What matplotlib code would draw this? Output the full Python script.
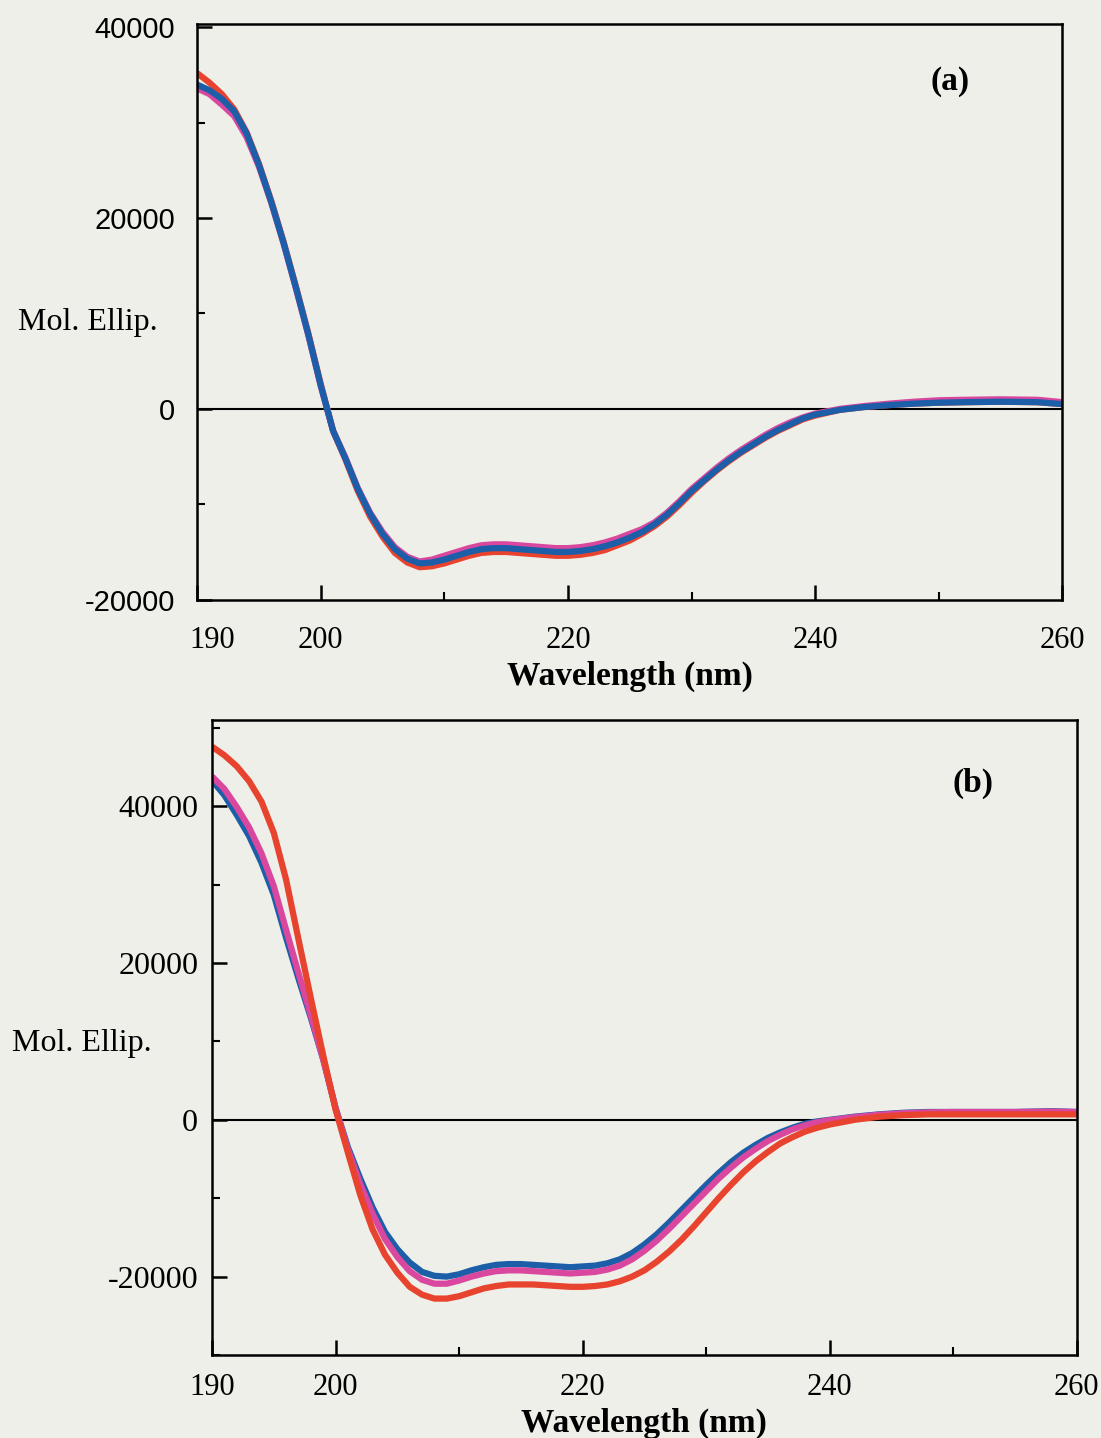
import numpy as np
import matplotlib.pyplot as plt
from matplotlib.ticker import MultipleLocator
from matplotlib.transforms import ScaledTranslation

# comprimentos de onda (nm)
wl = [190, 191, 192, 193, 194, 195, 196, 197, 198, 199,
      200, 201, 202, 203, 204, 205, 206, 207, 208, 209,
      210, 211, 212, 213, 214, 215, 216, 217, 218, 219,
      220, 221, 222, 223, 224, 225, 226, 227, 228, 229,
      230, 231, 232, 233, 234, 235, 236, 237, 238, 239,
      240, 242, 244, 246, 248, 250, 252, 255, 258, 260]

# painel (a)
a_red = [35200, 34200, 33000, 31400, 29000, 25700, 21800, 17500, 12800, 7900,
         2600, -2300, -5300, -8600, -11300, -13400, -15100, -16100, -16600, -16500,
         -16200, -15800, -15400, -15100, -15000, -15000, -15100, -15200, -15300, -15400,
         -15400, -15300, -15100, -14800, -14300, -13800, -13100, -12300, -11300, -10100,
         -8800, -7600, -6500, -5500, -4600, -3800, -3000, -2300, -1700, -1100,
         -700, -100, 200, 400, 550, 650, 700, 750, 700, 500]
a_magenta = [33600, 33000, 31900, 30700, 28500, 25400, 21600, 17300, 12600, 7700,
             2400, -2300, -5100, -8300, -10900, -12900, -14500, -15500, -16000, -15800,
             -15400, -15000, -14600, -14300, -14200, -14200, -14300, -14400, -14500, -14600,
             -14600, -14500, -14300, -14000, -13600, -13100, -12600, -11900, -10900, -9700,
             -8400, -7300, -6200, -5200, -4300, -3500, -2700, -2000, -1400, -900,
             -500, 0, 300, 550, 750, 900, 950, 1000, 950, 700]
a_blue = [34000, 33400, 32500, 31200, 28900, 25600, 21700, 17400, 12700, 7800,
          2500, -2300, -5200, -8400, -11000, -13100, -14700, -15700, -16200, -16100,
          -15800, -15400, -15000, -14700, -14600, -14600, -14700, -14800, -14900, -15000,
          -15000, -14900, -14700, -14400, -14000, -13500, -12900, -12100, -11100, -9900,
          -8600, -7500, -6400, -5400, -4500, -3700, -2900, -2200, -1600, -1000,
          -600, -100, 200, 400, 550, 650, 700, 750, 700, 500]

# painel (b)
b_red = [47600, 46500, 45100, 43200, 40600, 36600, 30600, 23000, 15500, 8200,
         1300, -4200, -9600, -14000, -17200, -19500, -21300, -22300, -22800, -22800,
         -22500, -22000, -21500, -21200, -21000, -21000, -21000, -21100, -21200, -21300,
         -21300, -21200, -21000, -20600, -20000, -19200, -18100, -16800, -15300, -13600,
         -11800, -10000, -8300, -6700, -5300, -4100, -3000, -2200, -1500, -1000,
         -600, 0, 400, 600, 700, 700, 700, 700, 700, 700]
b_magenta = [43800, 42200, 39900, 37300, 34000, 29800, 24200, 18700, 13300, 7700,
             1500, -3800, -8200, -12000, -15200, -17500, -19300, -20400, -20900, -20900,
             -20500, -20000, -19600, -19300, -19200, -19200, -19300, -19400, -19500, -19600,
             -19500, -19400, -19100, -18600, -17800, -16700, -15400, -13900, -12300, -10700,
             -9100, -7500, -6100, -4800, -3700, -2700, -1900, -1200, -700, -300,
             -50, 350, 650, 850, 950, 1000, 1000, 1000, 1050, 1000]
b_blue = [43300, 41400, 38900, 36200, 32800, 28700, 23200, 18000, 13000, 7700,
          1500, -3500, -7500, -11200, -14300, -16500, -18200, -19400, -19900, -20000,
          -19700, -19200, -18800, -18500, -18400, -18400, -18500, -18600, -18700, -18800,
          -18700, -18600, -18300, -17800, -17000, -15900, -14600, -13100, -11500, -9900,
          -8300, -6800, -5400, -4200, -3200, -2300, -1600, -1000, -500, -200,
          0, 400, 700, 900, 1000, 1000, 1000, 1000, 1100, 1000]

xticks = [190, 200, 220, 240, 260]
yticks = [-20000, 0, 20000, 40000]

fundo = '#edefe8'
vermelho = '#e8432e'
magenta = '#d9489e'
azul = '#1c5ea8'

fig = plt.figure(figsize=(11.01, 14.38), dpi=100, facecolor=fundo)


def monta_painel(ax, series, ylim, letra, pos_letra, fonte_y, tam_y, pad_x, pad_y):
    ax.set_facecolor(fundo)
    for y, cor in series:
        ax.plot(wl, y, color=cor, lw=4.5, solid_capstyle='butt')
    ax.axhline(0, color='black', lw=1.5, zorder=1)
    ax.set_xlim(190, 260)
    ax.set_ylim(*ylim)
    ax.set_xticks(xticks)
    ax.set_xticklabels([str(t) for t in xticks], family='Liberation Serif', fontsize=22)
    ax.xaxis.set_minor_locator(MultipleLocator(10))
    ax.set_yticks(yticks)
    ax.set_yticklabels([str(t) for t in yticks], family=fonte_y, fontsize=tam_y)
    ax.yaxis.set_minor_locator(MultipleLocator(10000))
    ax.tick_params(which='major', direction='in', length=11, width=1.8, color='black')
    ax.tick_params(which='minor', direction='in', length=6, width=1.5, color='black')
    ax.tick_params(axis='x', which='major', pad=pad_x)
    ax.tick_params(axis='y', which='major', pad=pad_y)
    for s in ax.spines.values():
        s.set_linewidth(1.8)
    ax.text(pos_letra[0], pos_letra[1], letra, transform=ax.transAxes,
            family='Liberation Serif', fontweight='bold', fontsize=24,
            ha='center', va='center')
    ax.set_xlabel('Wavelength (nm)', family='Liberation Serif', fontweight='bold',
                  fontsize=24, labelpad=4)


ax1 = fig.add_axes([0.179, 0.583, 0.786, 0.4])
monta_painel(ax1, [(a_red, vermelho), (a_magenta, magenta), (a_blue, azul)],
             (-20000, 40300), '(a)', (0.87, 0.9), 'Liberation Sans', 21, 19, 16)
# rótulo 190 do painel (a) fica um pouco à direita do canto
lab190 = ax1.get_xticklabels()[0]
lab190.set_transform(lab190.get_transform() + ScaledTranslation(0.15, 0, fig.dpi_scale_trans))

ax2 = fig.add_axes([0.1926, 0.0577, 0.7854, 0.4416])
monta_painel(ax2, [(b_blue, azul), (b_magenta, magenta), (b_red, vermelho)],
             (-30000, 51000), '(b)', (0.88, 0.9), 'Liberation Serif', 23, 13, 10)

fig.text(0.016, 0.776, 'Mol. Ellip.', family='Liberation Serif', fontsize=23,
         ha='left', va='center')
fig.text(0.011, 0.274, 'Mol. Ellip.', family='Liberation Serif', fontsize=23,
         ha='left', va='center')

fig.savefig('out.png', dpi=100, facecolor=fundo)
